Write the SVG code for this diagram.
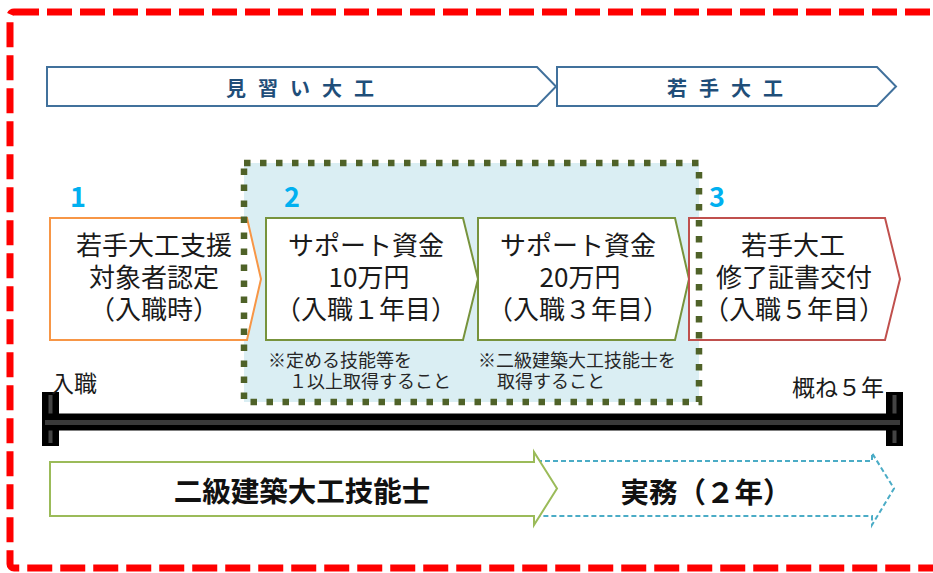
<svg xmlns="http://www.w3.org/2000/svg" width="933" height="573" viewBox="0 0 933 573">
<style>
text{font-family:"Noto Sans CJK JP","Noto Sans",sans-serif;}
.hdr{fill:#1F4E79;font-size:20px;font-weight:bold;letter-spacing:12px;}
.hbox{fill:#fff;stroke:#41719C;stroke-width:2;}
.box{fill:#fff;stroke-width:2;}
.bt{fill:#1a1a1a;font-size:26px;text-anchor:middle;}
.num{fill:#00B0F0;font-size:27px;font-weight:bold;}
.note{fill:#262626;font-size:18px;}
.lbl{fill:#1a1a1a;font-size:23px;}
.big{fill:#111;font-size:28.5px;font-weight:bold;text-anchor:middle;}
</style>
<rect x="10" y="12" width="935" height="556" rx="4" fill="none" stroke="#FF0000" stroke-width="7" stroke-dasharray="25 8"/>

<g id="header-minarai">
<path class="hbox" d="M47 67 H537 L556 86.5 L537 106 H47 Z"/>
<text class="hdr" x="226" y="96">見習い大工</text>
</g>
<g id="header-wakate">
<path class="hbox" d="M557 67 H877 L896 86.5 L877 106 H557 Z"/>
<text class="hdr" x="667" y="96">若手大工</text>
</g>

<g id="support-area">
<rect x="244" y="163" width="455" height="239" fill="#DAEEF3"/>
</g>

<g id="step1">
<text class="num" x="70" y="207">1</text>
<path class="box" stroke="#F79646" d="M50 218 H247 L261 279 L247 340 H50 Z"/>
<text class="bt"><tspan x="154" y="255">若手大工支援</tspan><tspan x="154" y="287">対象者認定</tspan><tspan x="154" y="319">（入職時）</tspan></text>
</g>
<g id="step2">
<text class="num" x="284" y="207">2</text>
<path class="box" stroke="#77933C" d="M266 218 H463 L478 279 L463 340 H266 Z"/>
<text class="bt"><tspan x="366" y="255">サポート資金</tspan><tspan x="369" y="287">10万円</tspan><tspan x="366" y="319">（入職１年目）</tspan></text>
<text class="note"><tspan x="268" y="367">※定める技能等を</tspan><tspan x="289" y="388">１以上取得すること</tspan></text>
</g>
<g id="step2b">
<path class="box" stroke="#77933C" d="M478 218 H675 L689 279 L675 340 H478 Z"/>
<text class="bt"><tspan x="578" y="255">サポート資金</tspan><tspan x="580" y="287">20万円</tspan><tspan x="578" y="319">（入職３年目）</tspan></text>
<text class="note"><tspan x="478" y="367">※二級建築大工技能士を</tspan><tspan x="497" y="388">取得すること</tspan></text>
</g>
<g id="step3">
<text class="num" x="709" y="207">3</text>
<path class="box" stroke="#C0504D" d="M689 218 H885 L900 279 L885 340 H689 Z"/>
<text class="bt"><tspan x="793" y="255">若手大工</tspan><tspan x="794" y="287">修了証書交付</tspan><tspan x="794" y="319">（入職５年目）</tspan></text>
</g>

<g id="support-border">
<rect x="244" y="163" width="455" height="239" fill="none" stroke="#4F6228" stroke-width="6.5" stroke-dasharray="6.5 9.5"/>
</g>

<g id="timeline">
<rect x="42" y="392" width="17" height="54" fill="#000"/>
<rect x="886" y="392" width="17" height="54" fill="#000"/>
<line x1="50.5" y1="395" x2="50.5" y2="443" stroke="#444" stroke-width="4"/>
<line x1="894.5" y1="395" x2="894.5" y2="443" stroke="#444" stroke-width="4"/>
<rect x="42" y="413.5" width="861" height="17" fill="#000"/>
<line x1="45" y1="422.5" x2="900" y2="422.5" stroke="#3a3a3a" stroke-width="5"/>
<text class="lbl" x="51" y="392">入職</text>
<text class="lbl" x="792" y="396">概ね５年</text>
</g>

<g id="practice">
<path d="M537 461 H872 V453 L894 488.5 L872 525 V516 H537" fill="#fff" stroke="#4BACC6" stroke-width="2" stroke-dasharray="5 3"/>
<text class="big" x="706" y="503">実務（２年）</text>
</g>
<g id="certification">
<path d="M50 462 H534 V452 L557 488.5 L534 525 V516 H50 Z" fill="#fff" stroke="#9BBB59" stroke-width="2"/>
<text class="big" x="302" y="502">二級建築大工技能士</text>
</g>
</svg>
